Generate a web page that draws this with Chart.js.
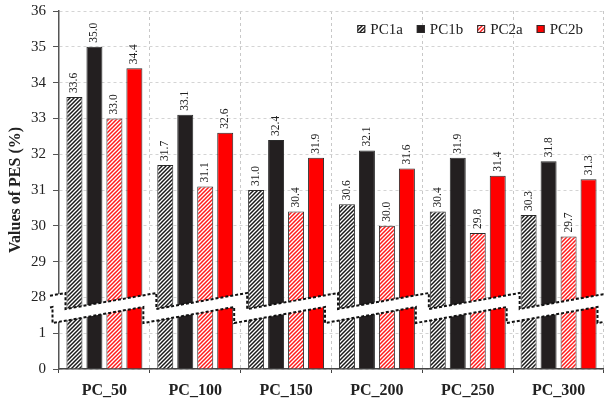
<!DOCTYPE html>
<html>
<head>
<meta charset="utf-8">
<script src="https://cdn.jsdelivr.net/npm/chart.js@4.4.1/dist/chart.umd.min.js"></script>
<style>
  html, body { margin: 0; padding: 0; background: #fff; }
  #wrap { width: 604px; height: 400px; }
</style>
</head>
<body>
<div id="wrap"><canvas id="c" width="604" height="400"></canvas></div>
<script>
// Sample groups along the x axis
const categories = ['PC_50', 'PC_100', 'PC_150', 'PC_200', 'PC_250', 'PC_300'];

// PES values (%) for each specimen type
const pc1a = [33.6, 31.7, 31.0, 30.6, 30.4, 30.3];
const pc1b = [35.0, 33.1, 32.4, 32.1, 31.9, 31.8];
const pc2a = [33.0, 31.1, 30.4, 30.0, 29.8, 29.7];
const pc2b = [34.4, 32.6, 31.9, 31.6, 31.4, 31.3];

// Broken value axis: 0 and 1 below the break, 28..36 above it
const yTickLabels = ['0', '1', '28', '29', '30', '31', '32', '33', '34', '35', '36'];
const breakLow = 1;    // last value shown below the break
const breakHigh = 28;  // first value shown above the break

// Position of a value on the compressed axis
function toAxis(v) {
  if (v <= breakLow) return v;
  return v - breakHigh + breakLow + 1;
}

function hatch(color) {
  const t = document.createElement('canvas');
  t.width = 4; t.height = 4;
  const g = t.getContext('2d');
  g.fillStyle = '#ffffff';
  g.fillRect(0, 0, 4, 4);
  g.strokeStyle = color;
  g.lineWidth = 1.5;
  g.beginPath();
  g.moveTo(-1, 1); g.lineTo(1, -1);
  g.moveTo(0, 4); g.lineTo(4, 0);
  g.moveTo(3, 5); g.lineTo(5, 3);
  g.stroke();
  return g.createPattern(t, 'repeat');
}

const SERIF = "'Liberation Serif', 'Times New Roman', serif";
const ctx = document.getElementById('c').getContext('2d');

const series = [
  { label: 'PC1a', values: pc1a, fill: hatch('#1a1a1a') },
  { label: 'PC1b', values: pc1b, fill: '#231f20' },
  { label: 'PC2a', values: pc2a, fill: hatch('#ff1a1a') },
  { label: 'PC2b', values: pc2b, fill: '#ff0000' }
];

// Rotated value labels above each bar
const valueLabels = {
  id: 'valueLabels',
  afterDatasetsDraw(chart) {
    const c = chart.ctx;
    c.save();
    c.font = '11.5px ' + SERIF;
    c.fillStyle = '#222';
    c.textAlign = 'left';
    c.textBaseline = 'middle';
    chart.data.datasets.forEach((ds, i) => {
      chart.getDatasetMeta(i).data.forEach((bar, j) => {
        c.save();
        c.translate(bar.x, bar.y - 4);
        c.rotate(-Math.PI / 2);
        c.fillText(ds.rawValues[j].toFixed(1), 0, 0);
        c.restore();
      });
    });
    c.restore();
  }
};

// Zig-zag axis break band across the plot
const axisBreak = {
  id: 'axisBreak',
  afterDatasetsDraw(chart) {
    const c = chart.ctx;
    const ys = chart.scales.y;
    const area = chart.chartArea;
    const n = categories.length;
    const catW = (area.right - area.left) / n;
    const step = 6.5;
    const xL = area.left - 9, xR = chart.width;
    const uA = ys.getPixelForValue(1.676), uB = ys.getPixelForValue(2.123);
    const lA = ys.getPixelForValue(1.285), lB = ys.getPixelForValue(1.732);
    function saw(offset, yA, yB) {
      const pts = [];
      const slope = (yB - yA) / catW;
      for (let k = -1; k <= n; k++) {
        const s = area.left + k * catW + offset;
        const e = s + catW;
        if (e < xL || s > xR) continue;
        const a = Math.max(s, xL), b = Math.min(e, xR);
        pts.push([a, yA + slope * (a - s)]);
        pts.push([b, yA + slope * (b - s)]);
      }
      return pts;
    }
    const up = saw(step, uA, uB);
    const lo = saw(-step, lA, lB);
    c.save();
    c.beginPath();
    up.forEach((p, i) => i ? c.lineTo(p[0], p[1]) : c.moveTo(p[0], p[1]));
    for (let i = lo.length - 1; i >= 0; i--) c.lineTo(lo[i][0], lo[i][1]);
    c.closePath();
    c.fillStyle = '#ffffff';
    c.fill();
    c.strokeStyle = '#111';
    c.lineWidth = 2;
    c.setLineDash([3, 2]);
    [up, lo].forEach(pts => {
      c.beginPath();
      pts.forEach((p, i) => i ? c.lineTo(p[0], p[1]) : c.moveTo(p[0], p[1]));
      c.stroke();
    });
    c.restore();
  }
};

// Legend row inside the top-right of the plot
const topLegend = {
  id: 'topLegend',
  afterDraw(chart) {
    const c = chart.ctx;
    const area = chart.chartArea;
    c.save();
    c.font = '15px ' + SERIF;
    c.textBaseline = 'middle';
    c.textAlign = 'left';
    const box = 8, gap = 5, sep = 14;
    const items = chart.data.datasets.map(ds => ({ ds, w: c.measureText(ds.label).width }));
    let total = items.reduce((s, it) => s + box + gap + it.w, 0) + sep * (items.length - 1);
    let x = 583 - total;
    const y = area.top + 18;
    items.forEach(it => {
      c.fillStyle = it.ds.backgroundColor;
      c.fillRect(x, y - box / 2, box, box);
      c.strokeStyle = '#2a2a2a';
      c.lineWidth = 1;
      c.strokeRect(x + 0.5, y - box / 2 + 0.5, box - 1, box - 1);
      c.fillStyle = '#222';
      c.fillText(it.ds.label, x + box + gap, y + 1);
      x += box + gap + it.w + sep;
    });
    c.restore();
  }
};

new Chart(ctx, {
  type: 'bar',
  data: {
    labels: categories,
    datasets: series.map(s => ({
      label: s.label,
      data: s.values.map(toAxis),
      rawValues: s.values,
      backgroundColor: s.fill,
      borderColor: '#2a2a2a',
      borderWidth: 1,
      barPercentage: 0.8,
      categoryPercentage: 0.88
    }))
  },
  options: {
    responsive: false,
    animation: false,
    devicePixelRatio: 1,
    layout: { padding: { top: 11, right: -2, left: 0, bottom: 0 } },
    plugins: {
      legend: { display: false },
      tooltip: { enabled: false }
    },
    scales: {
      x: {
        grid: {
          offset: true,
          color: '#c8c8c8',
          lineWidth: 1,
          tickLength: 4,
          tickColor: '#444',
          drawOnChartArea: true
        },
        border: { display: true, color: '#444', width: 1.5, dash: [3, 3] },
        ticks: {
          color: '#222',
          padding: 8,
          font: { family: SERIF, size: 16, weight: 'bold' }
        },
        afterFit(scale) { scale.height = 31; }
      },
      y: {
        min: 0,
        max: yTickLabels.length - 1,
        grid: {
          color: '#d4d4d4',
          lineWidth: 1,
          tickLength: 6,
          tickColor: '#555'
        },
        border: { display: true, color: '#555', width: 1.5, dash: [3, 3] },
        ticks: {
          stepSize: 1,
          color: '#222',
          padding: 7,
          font: { family: SERIF, size: 15 },
          callback: (v, i) => yTickLabels[i]
        },
        title: {
          display: true,
          text: 'Values of PES (%)',
          color: '#222',
          padding: { top: 6, bottom: 4 },
          font: { family: SERIF, size: 16, weight: 'bold' }
        },
        afterFit(scale) {
          scale.width = 59;
          scale.paddingTop = 0;
          scale.paddingBottom = 0;
        }
      }
    }
  },
  plugins: [axisBreak, valueLabels, topLegend]
});
</script>
</body>
</html>
